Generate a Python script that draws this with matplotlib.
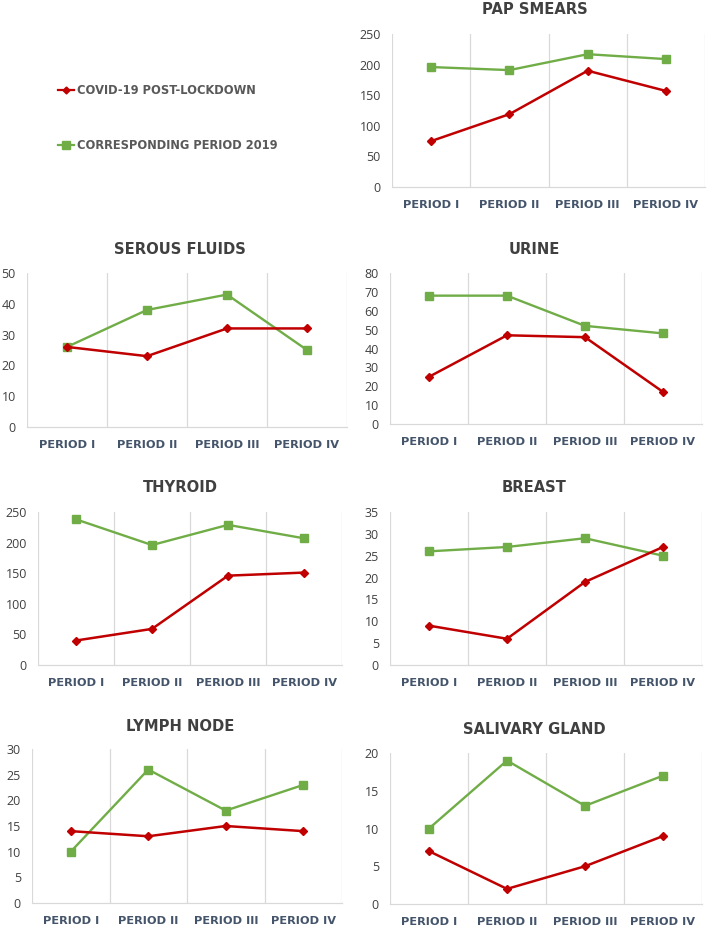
import matplotlib
matplotlib.use("Agg")
import matplotlib.pyplot as plt
from matplotlib.lines import Line2D

periods = ["PERIOD I", "PERIOD II", "PERIOD III", "PERIOD IV"]
series_names = ["COVID-19 POST-LOCKDOWN", "CORRESPONDING PERIOD 2019"]

pap_covid = [75, 119, 190, 157]
pap_2019 = [196, 191, 217, 209]
serous_covid = [26, 23, 32, 32]
serous_2019 = [26, 38, 43, 25]
urine_covid = [25, 47, 46, 17]
urine_2019 = [68, 68, 52, 48]
thyroid_covid = [40, 59, 146, 151]
thyroid_2019 = [238, 196, 229, 207]
breast_covid = [9, 6, 19, 27]
breast_2019 = [26, 27, 29, 25]
lymph_covid = [14, 13, 15, 14]
lymph_2019 = [10, 26, 18, 23]
salivary_covid = [7, 2, 5, 9]
salivary_2019 = [10, 19, 13, 17]

W, H = 709, 930
RED = "#C00000"
GREEN = "#70AD47"
GRID = "#D9D9D9"

fig = plt.figure(figsize=(W / 100, H / 100), dpi=100)

# (title, covid, 2019, ymax, ystep, (left, right, top, bottom) px, title_y px)
panels = [
    ("PAP SMEARS", pap_covid, pap_2019, 250, 50, (392, 705, 34, 187), 10, (360, 709)),
    ("SEROUS FLUIDS", serous_covid, serous_2019, 50, 10, (27, 347, 273, 427), 250, (0, 360)),
    ("URINE", urine_covid, urine_2019, 80, 10, (390, 702, 273, 424), 250, (360, 709)),
    ("THYROID", thyroid_covid, thyroid_2019, 250, 50, (38, 342, 512, 665), 487, (0, 360)),
    ("BREAST", breast_covid, breast_2019, 35, 5, (390, 702, 512, 665), 487, (360, 709)),
    ("LYMPH NODE", lymph_covid, lymph_2019, 30, 5, (32, 342, 749, 903), 726, (0, 360)),
    ("SALIVARY GLAND", salivary_covid, salivary_2019, 20, 5, (390, 702, 753, 904), 729, (360, 709)),
]

xs = list(range(1, len(periods) + 1))

for title, cov, ref, ymax, ystep, (l, r, t, b), ty, (cl, cr) in panels:
    ax = fig.add_axes([l / W, 1 - b / H, (r - l) / W, (b - t) / H])
    ax.plot(xs, ref, color=GREEN, lw=1.7, marker="s", ms=5.8, zorder=3)
    ax.plot(xs, cov, color=RED, lw=1.8, marker="D", ms=3.6, zorder=4)
    ax.set_xlim(0.5, len(periods) + 0.5)
    ax.set_ylim(0, ymax)
    ax.set_yticks(range(0, ymax + 1, ystep))
    ax.set_xticks(xs)
    ax.set_xticklabels(periods, fontsize=8.2, fontweight="bold", color="#44546A",
                       family="DejaVu Sans")
    ax.set_xticks([x + 0.5 for x in range(0, len(periods) + 1)], minor=True)
    ax.grid(True, which="minor", axis="x", color=GRID, lw=0.9)
    ax.tick_params(axis="x", which="both", length=0, pad=9)
    ax.tick_params(axis="y", length=0, pad=8, labelsize=9, labelcolor="#404040")
    for lab in ax.get_yticklabels():
        lab.set_family("Open Sans")
    for s in ["top", "left", "right"]:
        ax.spines[s].set_visible(False)
    ax.spines["bottom"].set_color(GRID)
    ax.spines["bottom"].set_linewidth(0.9)
    fig.text((cl + cr) / 2 / W, 1 - ty / H, title, ha="center", va="center",
             fontsize=10.6, fontweight="bold", color="#404040", family="DejaVu Sans")

handles = [
    Line2D([], [], color=RED, lw=1.6, marker="D", ms=3.5),
    Line2D([], [], color=GREEN, lw=1.6, marker="s", ms=5.5),
]
fig.legend(handles, series_names, loc="center left",
           bbox_to_anchor=(52 / W, 1 - 118 / H), frameon=False,
           prop={"family": "DejaVu Sans", "weight": "bold", "size": 8.3},
           labelcolor="#595959", handlelength=1.4, handletextpad=0.25,
           labelspacing=3.6, borderpad=0)

fig.savefig("out.png", dpi=100)
